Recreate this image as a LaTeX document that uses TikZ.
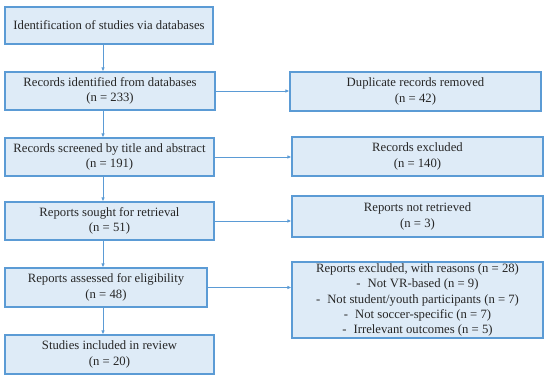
\documentclass[tikz,border=0pt]{standalone}
\usepackage{fontspec}
\setmainfont{Liberation Serif}
\usetikzlibrary{arrows.meta}
\definecolor{boxfill}{HTML}{DEEBF7}
\definecolor{boxline}{HTML}{5B9BD5}
\definecolor{txt}{HTML}{262626}
\tikzset{
  box/.style={draw=boxline, fill=boxfill, line width=1.1pt, rectangle, inner sep=0pt,
    align=center, text=txt, font=\fontsize{12.7pt}{15.4pt}\selectfont},
  arr/.style={draw=boxline, line width=0.8pt, -{Latex[length=4pt,width=3.5pt]}}
}
\begin{document}
\begin{tikzpicture}[x=1pt,y=-1pt]
\useasboundingbox (0,0) rectangle (550,382);
\fill[white] (0,0) rectangle (550,382);
\coordinate (ax) at (103,0);
% left column
\node[box, minimum width=208pt, minimum height=37pt] (b1) at (109,25.5) {Identification of studies via databases};
\node[box, minimum width=210pt, minimum height=38pt] (b2) at (110,91) {Records identified from databases\\(n = 233)};
\node[box, minimum width=209pt, minimum height=38pt] (b3) at (109.5,157) {Records screened by title and abstract\\(n = 191)};
\node[box, minimum width=209pt, minimum height=38pt] (b4) at (109.5,221) {Reports sought for retrieval\\(n = 51)};
\node[box, minimum width=202pt, minimum height=39pt] (b5) at (106,287.5) {Reports assessed for eligibility\\(n = 48)};
\node[box, minimum width=209pt, minimum height=39pt] (b6) at (109.5,354.5) {Studies included in review\\(n = 20)};
% right column
\node[box, minimum width=251pt, minimum height=39pt] (r1) at (415.5,91.5) {Duplicate records removed\\(n = 42)};
\node[box, minimum width=251pt, minimum height=39pt] (r2) at (417.5,156.5) {Records excluded\\(n = 140)};
\node[box, minimum width=251pt, minimum height=41pt] (r3) at (417.5,216.5) {Reports not retrieved\\(n = 3)};
\node[box, minimum width=251pt, minimum height=76pt] (r4) at (417.5,300) {Reports excluded, with reasons (n = 28)\\
-\hspace{7pt}Not VR-based (n = 9)\\
-\hspace{7pt}Not student/youth participants (n = 7)\\
-\hspace{7pt}Not soccer-specific (n = 7)\\
-\hspace{7pt}Irrelevant outcomes (n = 5)};
% vertical arrows
\draw[arr] (b1.south -| ax) -- (b2.north -| ax);
\draw[arr] (b2.south -| ax) -- (b3.north -| ax);
\draw[arr] (b3.south -| ax) -- (b4.north -| ax);
\draw[arr] (b4.south -| ax) -- (b5.north -| ax);
\draw[arr] (b5.south -| ax) -- (b6.north -| ax);
% horizontal arrows
\draw[arr] (b2.east) -- (b2.east -| r1.west);
\draw[arr] (b3.east) -- (b3.east -| r2.west);
\draw[arr] (b4.east) -- (b4.east -| r3.west);
\draw[arr] (b5.east) -- (b5.east -| r4.west);
\end{tikzpicture}
\end{document}
